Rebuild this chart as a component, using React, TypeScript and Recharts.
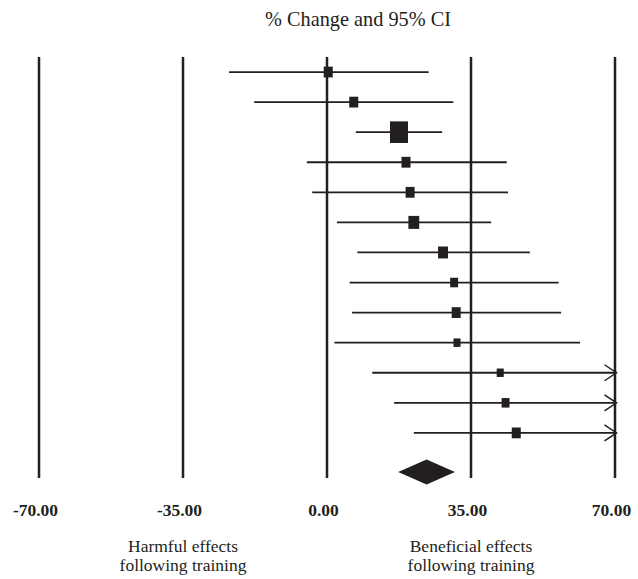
import React from 'react';
import { ComposedChart, XAxis, YAxis, Scatter, ReferenceLine } from 'recharts';

// ---- data ----
const studyRows = [1, 2, 3, 4, 5, 6, 7, 8, 9, 10, 11, 12, 13];
const pointEstimate = [0.3, 6.5, 17.5, 19.2, 20.2, 21.1, 28.2, 30.9, 31.4, 31.6, 42.1, 43.4, 46.0];
const lowerCI = [-23.8, -17.7, 7.0, -4.9, -3.6, 2.4, 7.4, 5.5, 6.1, 1.8, 11.0, 16.3, 21.1];
const upperCI = [24.7, 30.7, 28.0, 43.7, 44.0, 39.9, 49.3, 56.3, 56.9, 61.5, 73.2, 70.6, 71.0];
const studyWeight = [9, 9, 36, 9, 9, 13, 11, 7, 9, 5.5, 5.5, 7, 9];

const pooledRow = 14.3;
const pooledLower = 17.3;
const pooledEstimate = 24.2;
const pooledUpper = 31.1;

const xTicks = [-70, -35, 0, 35, 70];
const xMin = -70;
const xMax = 70;
const rowDomain = [0.5, 14.5];
const tickNotes: Record<string, string[]> = {
  '-35': ['Harmful effects', 'following training'],
  '35': ['Beneficial effects', 'following training'],
};
const title = '% Change and 95% CI';

// ---- style ----
const INK = '#231f20';
const SERIF = '"Liberation Serif", "Times New Roman", serif';

const points = studyRows.map((r, i) => ({ x: pointEstimate[i], y: r, w: studyWeight[i] }));

const Square = (p: any) => {
  const side = Math.sqrt(p.payload.w) * 3;
  const h = side * 1.2;
  return <rect x={p.cx - side / 2} y={p.cy - h / 2} width={side} height={h} fill={INK} />;
};

const ArrowLine = (p: any) => {
  const { x1, y1, x2, y2 } = p;
  const tip = x2 + 1.5;
  return (
    <g>
      <line x1={x1} y1={y1} x2={tip} y2={y2} stroke={INK} strokeWidth={1.8} />
      <polyline
        points={`${tip - 12},${y2 - 8} ${tip},${y2} ${tip - 12},${y2 + 8}`}
        fill="none"
        stroke={INK}
        strokeWidth={1.5}
      />
    </g>
  );
};

const Diamond = (p: any) => {
  const { x1, y1, x2 } = p;
  const mid = (x1 + x2) / 2;
  const hh = 12.5;
  return (
    <polygon
      points={`${x1},${y1} ${mid},${y1 - hh} ${x2},${y1} ${mid},${y1 + hh}`}
      fill={INK}
      stroke="none"
    />
  );
};

const Tick = (p: any) => {
  const { x, y, payload } = p;
  const v = payload.value as number;
  const notes = tickNotes[String(v)];
  return (
    <g>
      <text x={x - 3.5} y={y + 30} textAnchor="middle" fontFamily={SERIF} fontWeight="bold" fontSize={17.5} fill={INK}>
        {v.toFixed(2)}
      </text>
      {notes &&
        notes.map((t, k) => (
          <text key={k} x={x} y={y + 66 + k * 18.5} textAnchor="middle" fontFamily={SERIF} fontSize={17.5} fill={INK}>
            {t}
          </text>
        ))}
    </g>
  );
};

export default function App() {
  return (
    <div style={{ position: 'absolute', left: 8, top: 8, width: 630, height: 571 }}>
      <div
        style={{
          position: 'absolute',
          left: 200,
          width: 300,
          top: 0,
          textAlign: 'center',
          fontFamily: SERIF,
          fontSize: 20.3,
          color: INK,
          lineHeight: 'normal',
        }}
      >
        {title}
      </div>
      <ComposedChart width={630} height={571} margin={{ top: 49, right: 23, bottom: 71, left: 31 }}>
        <XAxis
          type="number"
          dataKey="x"
          domain={[xMin, xMax]}
          ticks={xTicks}
          interval={0}
          tickLine={false}
          axisLine={false}
          tick={Tick}
          height={30}
          allowDataOverflow
        />
        <YAxis type="number" dataKey="y" domain={rowDomain} reversed hide allowDataOverflow />
        {xTicks.map((v) => (
          <ReferenceLine key={`v${v}`} x={v} stroke={INK} strokeWidth={2.5} />
        ))}
        {studyRows.map((r, i) => {
          const over = upperCI[i] > xMax;
          return (
            <ReferenceLine
              key={`ci${r}`}
              segment={[
                { x: lowerCI[i], y: r },
                { x: over ? xMax : upperCI[i], y: r },
              ]}
              stroke={INK}
              strokeWidth={1.8}
              shape={over ? ArrowLine : undefined}
            />
          );
        })}
        <ReferenceLine
          segment={[
            { x: pooledLower, y: pooledRow },
            { x: pooledUpper, y: pooledRow },
          ]}
          shape={Diamond}
        />
        <Scatter data={points} shape={Square} isAnimationActive={false} />
      </ComposedChart>
    </div>
  );
}
